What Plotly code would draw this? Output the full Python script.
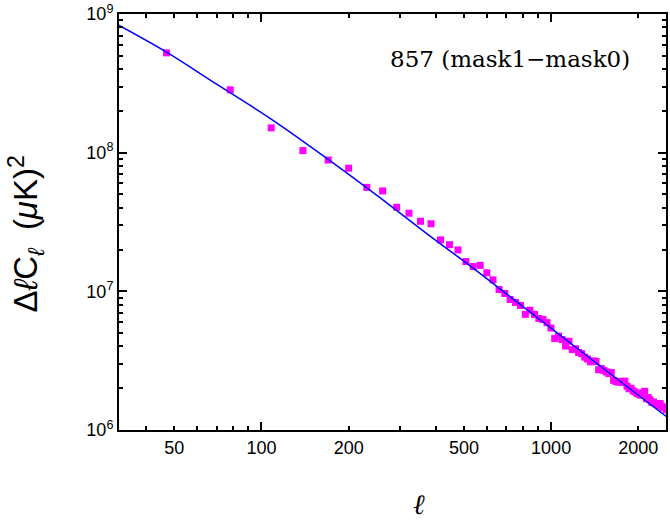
import plotly.graph_objects as go

# ---- data ----
ell = [47, 78, 108, 139, 170, 200, 231, 262, 293, 323,
       354, 385, 415, 446, 477, 508, 538, 569, 600, 630,
       661, 692, 722, 753, 784, 815, 845, 876, 907, 937,
       968, 999, 1029, 1060, 1091, 1122, 1152, 1183, 1214, 1244,
       1275, 1306, 1336, 1367, 1398, 1429, 1459, 1490, 1521, 1551,
       1582, 1613, 1643, 1674, 1705, 1736, 1766, 1797, 1828, 1858,
       1889, 1920, 1950, 1981, 2012, 2043, 2073, 2104, 2135, 2165,
       2196, 2227, 2257, 2288, 2319, 2350, 2380, 2411, 2442, 2472, 2500]
dcl = [5.25e8, 2.84e8, 1.51e8, 1.035e8, 8.85e7, 7.73e7, 5.62e7, 5.30e7, 4.04e7, 3.66e7,
       3.20e7, 3.07e7, 2.35e7, 2.17e7, 1.99e7, 1.64e7, 1.51e7, 1.54e7, 1.36e7, 1.21e7,
       1.03e7, 9.64e6, 8.73e6, 8.31e6, 7.91e6, 6.82e6, 7.31e6, 6.82e6, 6.37e6, 6.27e6,
       5.94e6, 5.43e6, 4.56e6, 4.75e6, 4.49e6, 4.03e6, 4.36e6, 3.80e6, 3.85e6, 3.62e6,
       3.55e6, 3.35e6, 3.25e6, 3.10e6, 3.15e6, 3.12e6, 2.72e6, 2.78e6, 2.69e6, 2.62e6,
       2.55e6, 2.60e6, 2.28e6, 2.24e6, 2.21e6, 2.24e6, 2.20e6, 2.25e6, 2.07e6, 1.98e6,
       2.00e6, 1.91e6, 1.88e6, 1.83e6, 1.81e6, 1.78e6, 1.85e6, 1.90e6, 1.68e6, 1.71e6,
       1.65e6, 1.58e6, 1.59e6, 1.55e6, 1.55e6, 1.50e6, 1.55e6, 1.48e6, 1.45e6, 1.45e6, 1.40e6]

model_ell = [32, 47, 70, 108, 169, 253, 378, 520, 750, 1060, 1500, 2000, 2500]
model_val = [8.34e8, 5.31e8, 3.12e8, 1.748e8, 9.03e7, 4.84e7, 2.54e7, 1.55e7,
             8.6e6, 4.93e6, 2.82e6, 1.78e6, 1.25e6]

x_label_vals = [50, 100, 200, 500, 1000, 2000]
x_label_text = ["50", "100", "200", "500", "1000", "2000"]
x_minor_vals = [40, 60, 70, 80, 90, 300, 400, 600, 700, 800, 900]
x_major_vals = [100, 1000]
y_major_vals = [1e6, 1e7, 1e8, 1e9]
y_major_text = ["10<sup>6</sup>", "10<sup>7</sup>", "10<sup>8</sup>", "10<sup>9</sup>"]
y_minor_vals = [m * 10 ** e for e in (6, 7, 8) for m in range(2, 10)]

XR = [1.508, 3.3967]
YR = [5.9996, 9.0004]

fig = go.Figure()
fig.add_trace(go.Scatter(
    x=ell, y=dcl, mode="markers",
    marker=dict(symbol="square", size=7, color="#ff00ff", line=dict(width=0)),
    showlegend=False, hoverinfo="skip", cliponaxis=True,
))
fig.add_trace(go.Scatter(
    x=model_ell, y=model_val, mode="lines", xaxis="x2", yaxis="y",
    line=dict(color="#0000ff", width=1.5, shape="spline", smoothing=1.0),
    showlegend=False, hoverinfo="skip",
))

tickfont = dict(family="Liberation Sans, Arial, sans-serif", size=18, color="black")

fig.update_layout(
    width=670, height=526,
    margin=dict(l=119, r=2, t=12, b=96),
    paper_bgcolor="white", plot_bgcolor="white",
    xaxis=dict(
        type="log", range=XR, showgrid=False, zeroline=False,
        showline=True, linecolor="black", linewidth=2, mirror="ticks",
        ticks="inside", ticklen=4, tickwidth=1.5, tickcolor="black",
        tickvals=x_label_vals, ticktext=x_label_text, tickfont=tickfont,
        ticklabeloverflow="allow",
        minor=dict(tickvals=x_minor_vals, ticks="inside", ticklen=4,
                   tickwidth=1.5, tickcolor="black", showgrid=False),
    ),
    xaxis2=dict(
        type="log", range=XR, overlaying="x", anchor="y", side="bottom",
        showgrid=False, zeroline=False, showline=False, mirror="ticks",
        ticks="inside", ticklen=8, tickwidth=1.5, tickcolor="black",
        tickvals=x_major_vals, showticklabels=False,
    ),
    yaxis=dict(
        type="log", range=YR, showgrid=False, zeroline=False,
        showline=True, linecolor="black", linewidth=2, mirror="ticks",
        ticks="inside", ticklen=8, tickwidth=1.5, tickcolor="black",
        tickvals=y_major_vals, ticktext=y_major_text, tickfont=tickfont,
        ticklabeloverflow="allow",
        minor=dict(tickvals=y_minor_vals, ticks="inside", ticklen=4,
                   tickwidth=1.5, tickcolor="black", showgrid=False),
    ),
    annotations=[
        dict(text="857 (mask1\u2212mask0)", xref="paper", yref="paper",
             x=0.714, y=0.892, xanchor="center", yanchor="middle", showarrow=False,
             font=dict(family="DejaVu Serif, serif", size=23, color="black")),
        dict(text="<i>\u2113</i>", xref="paper", yref="paper",
             x=0.548, y=-0.179, xanchor="center", yanchor="middle", showarrow=False,
             font=dict(family="DejaVu Serif, serif", size=28, color="black")),
        dict(text="\u0394<i>\u2113</i>C<sub><i>\u2113</i></sub>\u00a0\u00a0(<i>\u03bc</i>K)<sup>2</sup>",
             xref="paper", yref="paper", textangle=-90,
             x=-0.17, y=0.47, xanchor="center", yanchor="middle", showarrow=False,
             font=dict(family="Liberation Sans, Arial, sans-serif", size=33, color="black")),
    ],
)

fig.write_html("out.html", config={"displayModeBar": False},
               post_script="document.body.style.margin='0px';")
